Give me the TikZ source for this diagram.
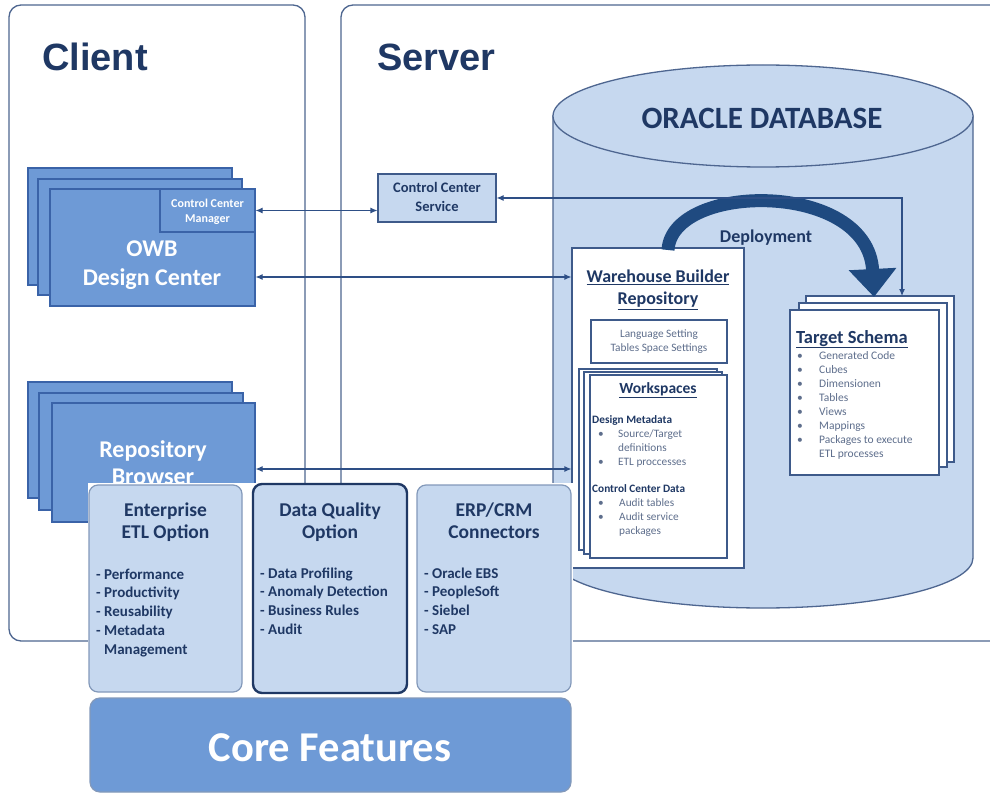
\documentclass[tikz,border=0pt]{standalone}
\usepackage{fontspec}
\setmainfont{Carlito}
\newfontfamily\titlefont{Liberation Sans}
\usetikzlibrary{arrows.meta,calc}
\definecolor{navy}{HTML}{1F3864}
\definecolor{textgray}{HTML}{5E6E8C}
\definecolor{midblue}{HTML}{6E9AD6}
\definecolor{midborder}{HTML}{3A63A8}
\definecolor{lightblue}{HTML}{C6D8EF}
\definecolor{framec}{HTML}{4E6690}
\definecolor{optborder}{HTML}{8399BA}
\definecolor{arrowc}{HTML}{2E4F86}
\definecolor{deployc}{HTML}{1F4A80}
\definecolor{pagec}{HTML}{3E5A8A}
\newcommand\fs[2]{\fontsize{#1}{#2}\selectfont}
% \tbox{style}{x1}{y1}{x2}{y2}{name}{text}
\newcommand\tbox[7]{\node[#1, minimum width={(#4-#2)*1pt}, minimum height={(#5-#3)*1pt}] (#6) at ({(#2+#4)/2},{(#3+#5)/2}) {#7};}
\tikzset{
  frame/.style={draw=framec, line width=1.3pt, rounded corners=12pt, fill=white, inner sep=0pt},
  owbbox/.style={draw=midborder, fill=midblue, line width=1.1pt, inner sep=0pt},
  servbox/.style={draw=pagec, fill=lightblue, line width=1.1pt, inner sep=0pt},
  page/.style={draw=pagec, fill=white, line width=1.1pt, inner sep=0pt},
  optbox/.style={draw=optborder, fill=lightblue, rounded corners=9pt, line width=1.2pt, inner sep=0pt},
  dqbox/.style={draw=navy, fill=lightblue, rounded corners=9pt, line width=2.4pt, inner sep=0pt},
  corebox/.style={draw=optborder, fill=midblue, rounded corners=10pt, line width=1.2pt, inner sep=0pt},
  dbline/.style={draw=framec, line width=1.3pt},
  conn/.style={draw=arrowc, line width=1.1pt, {Latex[length=7pt,width=6pt]}-{Latex[length=7pt,width=6pt]}},
  txt/.style={inner sep=0pt, anchor=base},
  txtw/.style={inner sep=0pt, anchor=base west},
  white bold/.style={text=white, font=\bfseries\fs{24}{28}},
}
\begin{document}
\begin{tikzpicture}[x=1pt,y=-1pt]
\useasboundingbox (0,0) rectangle (990,794);
\clip (0,0) rectangle (990,794);
\fill[white] (0,0) rectangle (990,794);

% ---- frames
\tbox{frame}{9}{5}{305}{641}{client}{}
\tbox{frame}{341}{5}{1010}{641}{server}{}
\node[txtw, font=\titlefont\bfseries\fs{38}{40}, text=navy] (clientT) at (42,71) {Client};
\node[txtw, font=\titlefont\bfseries\fs{38}{40}, text=navy] (serverT) at (377,71) {Server};

% ---- database cylinder
\draw[dbline, fill=lightblue] (553,116) -- (553,558) arc[start angle=180, end angle=0, x radius=210, y radius=50] -- (973,116) -- cycle;
\draw[dbline, fill=lightblue] (763,116) ellipse[x radius=210, y radius=51];
\node[txt, font=\bfseries\fs{31}{34}, text=navy] (oracleT) at (762,129) {ORACLE DATABASE};

% ---- control center service
\tbox{servbox}{378}{174}{496}{222}{ccs}{}
\node[txt, font=\bfseries\fs{14.5}{16}, text=navy] (ccsT1) at (437,193) {Control Center};
\node[txt, font=\bfseries\fs{14.5}{16}, text=navy] (ccsT2) at (437,212) {Service};

% ---- OWB design center stack
\tbox{owbbox}{28}{168}{232}{285}{owb3}{}
\tbox{owbbox}{38}{179}{242}{295}{owb2}{}
\tbox{owbbox}{50}{189}{255}{306}{owb}{}
\tbox{owbbox}{160}{189}{255}{232}{ccm}{}
\node[txt, text=white, font=\bfseries\fs{12}{14}] (ccmT1) at (207.5,208) {Control Center};
\node[txt, text=white, font=\bfseries\fs{12}{14}] (ccmT2) at (207.5,223) {Manager};
\node[txt, white bold] (owbT1) at (152,257) {OWB};
\node[txt, white bold] (owbT2) at (152,285) {Design Center};

% ---- repository browser stack
\tbox{owbbox}{28}{382}{232}{498}{rb3}{}
\tbox{owbbox}{39}{393}{243}{510}{rb2}{}
\tbox{owbbox}{52}{403}{255}{522}{rb}{}
\node[txt, white bold] (rbT1) at (153,457) {Repository};
\node[txt, white bold] (rbT2) at (153,484) {Browser};

% ---- warehouse builder repository
\tbox{page}{572}{248}{744}{568}{wbr}{}
\node[txt, font=\bfseries\fs{18}{20}, text=navy] (wbrT1) at (658,283) {\underline{Warehouse Builder}};
\node[txt, font=\bfseries\fs{18}{20}, text=navy] (wbrT2) at (658,305) {\underline{Repository}};
\tbox{page}{591}{320}{727}{363}{lang}{}
\node[txt, font=\fs{11.3}{13}, text=textgray] (langT1) at (659,337) {Language Setting};
\node[txt, font=\fs{11.3}{13}, text=textgray] (langT2) at (659,351) {Tables Space Settings};
\tbox{page}{579}{369}{717}{550}{ws3}{}
\tbox{page}{584}{372}{722}{554}{ws2}{}
\tbox{page}{590}{375}{727}{558}{ws}{}
\node[txt, font=\bfseries\fs{15.5}{18}, text=navy] (wsT) at (658,393) {\underline{Workspaces}};
\node[txtw, font=\bfseries\fs{11.3}{13}, text=navy] (wsA) at (592,423) {Design Metadata};
\node[txtw, font=\fs{11.3}{13}, text=textgray] (wsB1) at (598,437) {•};
\node[txtw, font=\fs{11.3}{13}, text=textgray] (wsB2) at (618,437) {Source/Target};
\node[txtw, font=\fs{11.3}{13}, text=textgray] (wsB3) at (618,451) {definitions};
\node[txtw, font=\fs{11.3}{13}, text=textgray] (wsC1) at (598,465) {•};
\node[txtw, font=\fs{11.3}{13}, text=textgray] (wsC2) at (618,465) {ETL proccesses};
\node[txtw, font=\bfseries\fs{11.3}{13}, text=navy] (wsD) at (592,492) {Control Center Data};
\node[txtw, font=\fs{11.3}{13}, text=textgray] (wsE1) at (598,506) {•};
\node[txtw, font=\fs{11.3}{13}, text=textgray] (wsE2) at (619,506) {Audit tables};
\node[txtw, font=\fs{11.3}{13}, text=textgray] (wsF1) at (598,520) {•};
\node[txtw, font=\fs{11.3}{13}, text=textgray] (wsF2) at (619,520) {Audit service};
\node[txtw, font=\fs{11.3}{13}, text=textgray] (wsF3) at (619,534) {packages};

% ---- target schema
\tbox{page}{806}{296}{954}{462}{ts3}{}
\tbox{page}{799}{303}{947}{467}{ts2}{}
\tbox{page}{790}{310}{939}{475}{ts}{}
\node[txtw, font=\bfseries\fs{18.5}{20}, text=navy] (tsT) at (796,343) {\underline{Target Schema}};
\foreach \t [count=\i] in {Generated Code,Cubes,Dimensionen,Tables,Views,Mappings,Packages to execute}{
  \node[txtw, font=\fs{11.5}{13}, text=textgray] (tsb\i) at (797,{359+14*(\i-1)}) {•};
  \node[txtw, font=\fs{11.5}{13}, text=textgray] (tsi\i) at (819,{359+14*(\i-1)}) {\t};
}
\node[txtw, font=\fs{11.5}{13}, text=textgray] (tsi8) at (819,457) {ETL processes};

% ---- deployment
\coordinate (depS) at (668,250);
\coordinate (depE) at (874,297);
\draw[deployc, line width=13pt, -{Triangle[length=28pt,width=46pt]}] (depS) .. controls (672,182) and (868,180) .. (depE);
\node[txt, font=\bfseries\fs{18}{20}, text=navy] (depT) at (766,243) {Deployment};

% ---- connectors
\coordinate (yA) at (0,277);
\coordinate (yB) at (0,469);
\coordinate (tsin) at (902,296);
\draw[conn] (ccm.east) -- (ccm.east -| ccs.west);
\draw[conn] (ccs.east) -| (tsin);
\draw[conn] (owb.east |- yA) -- (wbr.west |- yA);
\draw[conn] (rb.east |- yB) -- (wbr.west |- yB);

% ---- cover for the option area
\fill[white] (88,483) rectangle (573,794);

% ---- option boxes
\tbox{optbox}{89}{485}{242}{692}{ent}{}
\tbox{dqbox}{253}{484}{407}{693}{dq}{}
\tbox{optbox}{417}{485}{571}{692}{erp}{}
\node[txt, font=\bfseries\fs{19.5}{22}, text=navy] (entT1) at (165.5,516) {Enterprise};
\node[txt, font=\bfseries\fs{19.5}{22}, text=navy] (entT2) at (165.5,538) {ETL Option};
\node[txt, font=\bfseries\fs{19.5}{22}, text=navy] (dqT1) at (330,516) {Data Quality};
\node[txt, font=\bfseries\fs{19.5}{22}, text=navy] (dqT2) at (330,538) {Option};
\node[txt, font=\bfseries\fs{19.5}{22}, text=navy] (erpT1) at (494,516) {ERP/CRM};
\node[txt, font=\bfseries\fs{19.5}{22}, text=navy] (erpT2) at (494,538) {Connectors};
\foreach \t [count=\i] in {- Performance,- Productivity,- Reusability,- Metadata}{
  \node[txtw, font=\bfseries\fs{15}{17}, text=navy] (entI\i) at (96,{579+18.7*(\i-1)}) {\t};
}
\node[txtw, font=\bfseries\fs{15}{17}, text=navy] (entI5) at (104,654) {Management};
\foreach \t [count=\i] in {- Data Profiling,- Anomaly Detection,- Business Rules,- Audit}{
  \node[txtw, font=\bfseries\fs{15}{17}, text=navy] (dqI\i) at (260,{578+18.7*(\i-1)}) {\t};
}
\foreach \t [count=\i] in {- Oracle EBS,- PeopleSoft,- Siebel,- SAP}{
  \node[txtw, font=\bfseries\fs{15}{17}, text=navy] (erpI\i) at (424,{578+18.7*(\i-1)}) {\t};
}

% ---- core features
\tbox{corebox}{90}{698}{571}{792}{core}{}
\node[txt, text=white, font=\bfseries\fs{42.5}{46}] (coreT) at (330,761) {Core Features};
\end{tikzpicture}
\end{document}
